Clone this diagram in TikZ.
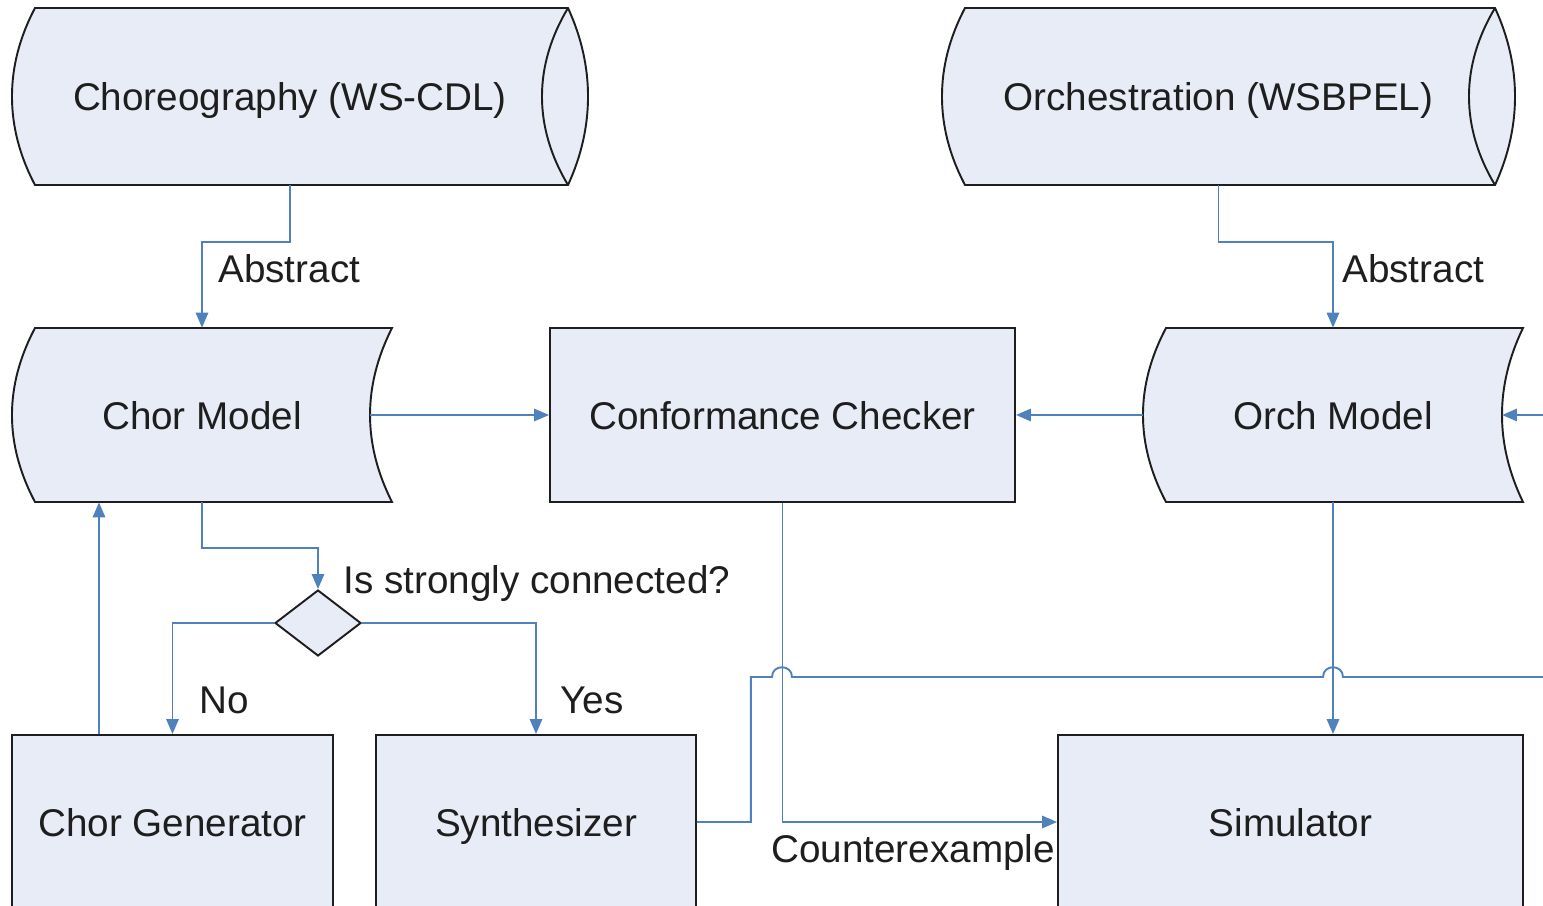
\documentclass[tikz,border=0pt]{standalone}
\usepackage{fontspec}
\setmainfont{Liberation Sans}
\usepackage{tikz}
\usetikzlibrary{arrows.meta,shapes.geometric}

\definecolor{boxfill}{RGB}{231,236,246}
\definecolor{flowblue}{RGB}{79,129,189}
\definecolor{ink}{RGB}{30,30,30}

\begin{document}
\begin{tikzpicture}[x=0.02cm, y=-0.02cm,
        box/.style={draw=ink, line width=1.1pt, fill=boxfill},
        txt/.style={text=ink, font=\fontsize{22}{26}\selectfont, text height=16pt, text depth=0pt},
        lbl/.style={text=ink, font=\fontsize{22}{26}\selectfont, inner sep=0pt, anchor=base west},
        block/.style={box, txt, rectangle, minimum width=#1, minimum height=3.48cm, inner sep=0pt},
        flow/.style={draw=flowblue, line width=1.1pt, -{Triangle[length=8.5pt,width=7pt]}}]
        \useasboundingbox (0,0) rectangle (1543,906);
        \clip (0,0) rectangle (1543,906);

        % storage outlines
        \draw[box] (35,8) -- (568,8) .. controls (594.7,66) and (594.7,127) .. (568,185) -- (35,185) .. controls (4.3,127) and (4.3,66) .. cycle;
        \draw[draw=ink, line width=1.1pt] (568,8) .. controls (533.3,66) and (533.3,127) .. (568,185);
        \draw[box] (965,8) -- (1495,8) .. controls (1521.7,66) and (1521.7,127) .. (1495,185) -- (965,185) .. controls (934.3,127) and (934.3,66) .. cycle;
        \draw[draw=ink, line width=1.1pt] (1495,8) .. controls (1460.3,66) and (1460.3,127) .. (1495,185);
        \draw[box] (35,328) -- (392,328) .. controls (362.7,386) and (362.7,444) .. (392,502) -- (35,502) .. controls (4.3,444) and (4.3,386) .. cycle;
        \draw[box] (1166,328) -- (1523,328) .. controls (1495,386) and (1495,444) .. (1523,502) -- (1166,502) .. controls (1135.3,444) and (1135.3,386) .. cycle;

        \node[txt, minimum width=11.12cm, minimum height=3.54cm] (chor) at (290,96.5) {Choreography (WS-CDL)};
        \node[txt, minimum width=11.06cm, minimum height=3.54cm] (orch) at (1218.5,96.5) {Orchestration (WSBPEL)};
        \node[txt, minimum width=7.6cm, minimum height=3.48cm] (chormodel) at (202,415) {Chor Model};
        \node[txt, minimum width=7.6cm, minimum height=3.48cm] (orchmodel) at (1333,415) {Orch Model};
        \node[block=9.3cm] (checker) at (782.5,415) {Conformance Checker};
        \node[box, diamond, minimum width=1.72cm, minimum height=1.32cm, inner sep=0pt] (test) at (318,623) {};
        \node[block=6.42cm] (chorgen) at (172.5,822) {Chor Generator};
        \node[block=6.4cm] (synth) at (536,822) {Synthesizer};
        \node[block=9.3cm] (sim) at (1290.5,822) {Simulator};

        \coordinate (chormodel-out) at (370,415);
        \coordinate (orchmodel-in) at (1502,415);
        \coordinate (back) at (99,0);

        \node[lbl] (abstract-l) at (218,282) {Abstract};
        \node[lbl] (abstract-r) at (1342,282) {Abstract};
        \node[lbl] (question) at (343,593) {Is strongly connected?};
        \node[lbl] (no) at (199,713) {No};
        \node[lbl] (yes) at (560,713) {Yes};
        \node[lbl] (cex) at (771,862) {Counterexample};

        \draw[flow] (chor.south) -- ++(0,57) -| (chormodel.north);
        \draw[flow] (orch.south) -- ++(0,57) -| (orchmodel.north);
        \draw[flow] (chormodel-out) -- (checker.west);
        \draw[flow] (orchmodel.west) -- (checker.east);
        \draw[flow] (chormodel.south) -- ++(0,46) -| (test.north);
        \draw[flow] (test.west) -| (chorgen.north);
        \draw[flow] (test.east) -| (synth.north);
        \draw[flow] (back |- chorgen.north) -- (back |- chormodel.south);
        \draw[flow] (checker.south) |- (sim.west);
        \draw[flow] (orchmodel.south) -- (orchmodel.south |- sim.north);
        \draw[flow] (synth.east) -- ++(54,0) |- (772,677) .. controls (772,664) and (792,664) .. (792,677)
            -- (1323,677) .. controls (1323,664) and (1343,664) .. (1343,677) -- (1580,677) |- (orchmodel-in);
\end{tikzpicture}
\end{document}
